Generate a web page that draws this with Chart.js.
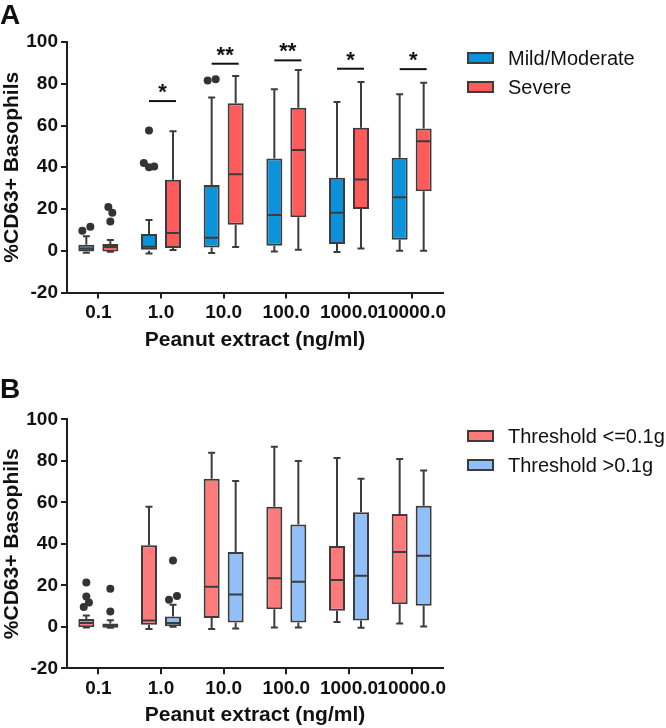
<!DOCTYPE html>
<html>
<head>
<meta charset="utf-8">
<script src="https://cdn.jsdelivr.net/npm/chart.js@4.4.1/dist/chart.umd.min.js"></script>
<style>
  html, body { margin:0; padding:0; background:#fff; }
  #wrap { position:relative; width:666px; height:728px; background:#fff; overflow:hidden; font-family:"Liberation Sans", Arial, sans-serif; }
  canvas { position:absolute; left:0; }
  .plabel { position:absolute; left:0; font-weight:bold; font-size:28px; line-height:28px; color:#111; }
  .leg { position:absolute; left:467px; height:20px; display:flex; align-items:center; font-size:20px; color:#111; white-space:nowrap; }
  .leg .sw { width:27px; height:12px; box-sizing:border-box; border:2px solid #3c3c3c; margin-right:14px; }
</style>
</head>
<body>
<div id="wrap">
  <canvas id="cA" width="666" height="364" style="top:0"></canvas>
  <canvas id="cB" width="666" height="364" style="top:364px"></canvas>
  <div class="plabel" style="top:1px">A</div>
  <div class="plabel" style="top:375px">B</div>
  <div class="leg" style="top:48px"><span class="sw" style="background:#0A93DB"></span>Mild/Moderate</div>
  <div class="leg" style="top:77px"><span class="sw" style="background:#FF5B5B"></span>Severe</div>
  <div class="leg" style="top:426px"><span class="sw" style="background:#FF7B7B"></span>Threshold &lt;=0.1g</div>
  <div class="leg" style="top:455px"><span class="sw" style="background:#90BFF9"></span>Threshold &gt;0.1g</div>
</div>
<script>
// ---------- data ----------
const categories = ['0.1', '1.0', '10.0', '100.0', '1000.0', '10000.0'];
const yTickValues = [-20, 0, 20, 40, 60, 80, 100];

// Panel A: Mild/Moderate
const mildMin      = [-1.0, -1.3, -1.1, -0.3, -0.6, 0.0];
const mildQ1       = [-0.3, 0.0, 1.6, 2.4, 3.2, 5.3];
const mildMedian   = [1.0, 1.9, 6.2, 17.1, 18.2, 25.6];
const mildQ3       = [2.9, 8.0, 31.5, 44.2, 35.0, 44.5];
const mildMax      = [7.0, 14.7, 73.4, 77.4, 71.2, 75.0];
const mildOutliers = [[9.6, 11.5], [57.6, 40.0, 40.3, 42.0], [81.6, 82.1], [], [], []];

// Panel A: Severe
const sevMin      = [-0.5, 0.3, 1.8, 0.5, 1.1, 0.0];
const sevQ1       = [-0.3, 1.3, 12.5, 16.0, 20.0, 28.5];
const sevMedian   = [1.8, 8.5, 36.6, 48.3, 34.1, 52.5];
const sevQ3       = [3.2, 34.0, 70.6, 68.5, 58.9, 58.6];
const sevMax      = [5.1, 57.3, 83.7, 86.6, 80.8, 80.5];
const sevOutliers = [[21.0, 18.2, 14.0], [], [], [], [], []];

// Panel A significance
const sigLabels = ['', '*', '**', '**', '*', '*'];
const sigLevel  = [null, 71.7, 89.6, 91.2, 87.2, 87.0];

// Panel B: Threshold <=0.1g
const lowMin      = [-0.3, -1.1, -1.0, -0.3, 2.3, 1.6];
const lowQ1       = [-0.2, 1.0, 4.3, 8.5, 7.7, 10.9];
const lowMedian   = [1.8, 3.0, 19.3, 23.4, 22.6, 36.0];
const lowQ3       = [3.7, 39.3, 71.4, 57.9, 38.9, 54.4];
const lowMax      = [5.4, 57.9, 83.9, 86.8, 81.4, 80.9];
const lowOutliers = [[21.3, 14.6, 11.7, 9.5], [], [], [], [], []];

// Panel B: Threshold >0.1g
const highMin      = [-0.5, 0.0, -0.8, -0.3, -0.5, 0.1];
const highQ1       = [-0.4, 0.3, 2.1, 2.1, 3.0, 10.1];
const highMedian   = [0.6, 1.8, 15.6, 21.7, 24.6, 34.3];
const highQ3       = [1.6, 5.0, 36.1, 49.3, 55.2, 58.3];
const highMax      = [3.2, 10.6, 70.3, 79.9, 71.4, 75.3];
const highOutliers = [[18.3, 7.4], [31.9, 13.0, 14.9], [], [], [], []];

// ---------- styling ----------
const FONT = '"Liberation Sans", Arial, sans-serif';
const INK = '#3c3c3c';
const AXIS = '#1e1e1e';

function boxDataset(label, q1, q3, min, median, max, outliers, color) {
  return {
    label: label,
    data: q1.map((v, i) => [v, q3[i]]),
    backgroundColor: color,
    borderColor: INK,
    borderWidth: 2,
    borderSkipped: false,
    barPercentage: 0.667,
    categoryPercentage: 0.766,
    stats: { min: min, median: median, max: max, outliers: outliers }
  };
}

const boxPlotPlugin = {
  id: 'boxplot',
  afterDatasetsDraw(chart) {
    const ctx = chart.ctx;
    const ys = chart.scales.y;
    ctx.save();
    ctx.strokeStyle = INK;
    ctx.lineWidth = 2;
    ctx.lineCap = 'butt';
    chart.data.datasets.forEach((ds, d) => {
      const meta = chart.getDatasetMeta(d);
      const st = ds.stats;
      meta.data.forEach((el, i) => {
        const x = el.x, w = el.width;
        const yMin = ys.getPixelForValue(st.min[i]);
        const yMax = ys.getPixelForValue(st.max[i]);
        const yQ1 = ys.getPixelForValue(ds.data[i][0]);
        const yQ3 = ys.getPixelForValue(ds.data[i][1]);
        const yMed = ys.getPixelForValue(st.median[i]);
        const cap = 3.5;
        ctx.beginPath();
        ctx.moveTo(x, yQ3); ctx.lineTo(x, yMax);
        ctx.moveTo(x - cap, yMax); ctx.lineTo(x + cap, yMax);
        ctx.moveTo(x, yQ1); ctx.lineTo(x, yMin);
        ctx.moveTo(x - cap, yMin); ctx.lineTo(x + cap, yMin);
        ctx.moveTo(x - w / 2 + 1, yMed); ctx.lineTo(x + w / 2 - 1, yMed);
        ctx.stroke();
        // outliers: placed side by side where they would overlap
        const placed = [];
        const cand = [0, 4, -4, 8, -8];
        st.outliers[i].forEach(v => {
          const p = { y: ys.getPixelForValue(v), dx: 0 };
          for (const c of cand) {
            if (placed.every(q => Math.hypot(q.dx - c, q.y - p.y) >= 6.5)) { p.dx = c; break; }
          }
          placed.push(p);
        });
        const sorted = placed.slice().sort((a, b) => a.y - b.y);
        const groups = [];
        let cur = [];
        sorted.forEach((p, k) => {
          if (k > 0 && p.y - sorted[k - 1].y >= 8) { groups.push(cur); cur = []; }
          cur.push(p);
        });
        if (cur.length) groups.push(cur);
        ctx.fillStyle = '#333';
        groups.forEach(g => {
          const mean = g.reduce((s, p) => s + p.dx, 0) / g.length;
          const k = g.length >= 3 ? 0.65 : 1;
          g.forEach(p => {
            ctx.beginPath();
            ctx.arc(x + (p.dx - mean) * k, p.y, 4, 0, Math.PI * 2);
            ctx.fill();
          });
        });
      });
    });
    const sig = chart.options.plugins.boxplot && chart.options.plugins.boxplot.sig;
    if (sig) {
      const m0 = chart.getDatasetMeta(0), m1 = chart.getDatasetMeta(1);
      ctx.strokeStyle = '#111';
      ctx.fillStyle = '#111';
      ctx.lineWidth = 2;
      ctx.font = 'bold 22px ' + FONT;
      ctx.textAlign = 'center';
      ctx.textBaseline = 'alphabetic';
      sig.labels.forEach((lab, i) => {
        if (!lab || sig.level[i] == null) return;
        const x0 = m0.data[i].x, x1 = m1.data[i].x + 3;
        const y = ys.getPixelForValue(sig.level[i]);
        ctx.beginPath();
        ctx.moveTo(x0, y); ctx.lineTo(x1, y);
        ctx.stroke();
        ctx.fillText(lab, (x0 + x1) / 2, y - 2);
      });
    }
    ctx.restore();
  }
};

function makeChart(canvasId, datasets, chartTop, chartBottom, sig) {
  const H = 364;
  const tickFont = { family: FONT, size: 19, weight: 'bold' };
  const titleFont = { family: FONT, size: 21, weight: 'bold' };
  return new Chart(document.getElementById(canvasId), {
    type: 'bar',
    data: { labels: categories, datasets: datasets },
    plugins: [boxPlotPlugin],
    options: {
      responsive: false,
      animation: false,
      devicePixelRatio: 1,
      layout: { padding: { left: 0, right: 223, top: chartTop, bottom: 0 } },
      plugins: {
        legend: { display: false },
        tooltip: { enabled: false },
        boxplot: { sig: sig }
      },
      scales: {
        x: {
          offset: true,
          grid: { offset: false, drawOnChartArea: false, drawTicks: true, tickLength: 6, color: AXIS, lineWidth: 2 },
          border: { display: true, color: AXIS, width: 2 },
          ticks: { font: tickFont, color: '#111', maxRotation: 0, minRotation: 0, autoSkip: false, padding: 3 },
          title: { display: true, text: 'Peanut extract (ng/ml)', font: titleFont, color: '#111',
                   padding: { top: 0, bottom: Math.max(0, H - (chartBottom + 48) - 12.6) } },
          afterFit(scale) { scale.height = H - chartBottom; }
        },
        y: {
          min: -20, max: 100,
          afterBuildTicks(scale) { scale.ticks = yTickValues.map(v => ({ value: v })); },
          grid: { drawOnChartArea: false, drawTicks: true, tickLength: 6, color: AXIS, lineWidth: 2 },
          border: { display: true, color: AXIS, width: 2 },
          ticks: { font: tickFont, color: '#111', padding: 3 },
          title: { display: true, text: '%CD63+ Basophils', font: titleFont, color: '#111',
                   padding: { top: 0, bottom: 0 } },
          afterFit(scale) { scale.width = 67; }
        }
      }
    }
  });
}

makeChart('cA', [
  boxDataset('Mild/Moderate', mildQ1, mildQ3, mildMin, mildMedian, mildMax, mildOutliers, '#0A93DB'),
  boxDataset('Severe', sevQ1, sevQ3, sevMin, sevMedian, sevMax, sevOutliers, '#FF5B5B')
], 42, 292.5, { labels: sigLabels, level: sigLevel });

makeChart('cB', [
  boxDataset('Threshold <=0.1g', lowQ1, lowQ3, lowMin, lowMedian, lowMax, lowOutliers, '#FF7B7B'),
  boxDataset('Threshold >0.1g', highQ1, highQ3, highMin, highMedian, highMax, highOutliers, '#90BFF9')
], 55.3, 304.3, null);
</script>
</body>
</html>
